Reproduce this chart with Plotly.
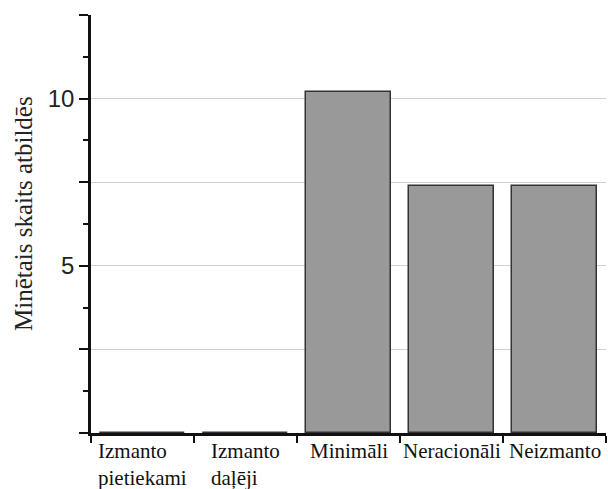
import plotly.graph_objects as go

# Survey categories and how often each was mentioned
categories = ["Izmanto pietiekami", "Izmanto daļēji", "Minimāli", "Neracionāli", "Neizmanto"]
label_lines = [["Izmanto", "pietiekami"], ["Izmanto", "daļēji"], ["Minimāli"], ["Neracionāli"], ["Neizmanto"]]
counts = [0, 0, 10.2, 7.4, 7.4]

y_tick_vals = [0, 2.5, 5, 7.5, 10, 12.5]
y_tick_text = ["", "", "5", "", "10", ""]
y_title = "Minētais skaits atbildēs"

serif = "Liberation Serif"
sans = "Liberation Sans"

fig = go.Figure(
    go.Bar(
        x=categories,
        y=counts,
        width=0.82,
        marker=dict(color="#999999", line=dict(color="#333333", width=1.5)),
    )
)

# Category labels below the axis, lines left-aligned within each label block
for cat, lines in zip(categories, label_lines):
    fig.add_annotation(
        x=cat, xref="x", y=0, yref="paper",
        text="<br>".join(lines),
        showarrow=False, xanchor="center", yanchor="top", align="left",
        yshift=-4,
        font=dict(family=serif, size=21, color="#111111"),
    )

# Rotated y-axis title
fig.add_annotation(
    x=-0.130, xref="paper", y=0.524, yref="paper",
    text=y_title, textangle=-90, showarrow=False,
    xanchor="center", yanchor="middle",
    font=dict(family=serif, size=25, color="#222222"),
)

fig.update_layout(
    width=608, height=489,
    margin=dict(l=91, r=2, t=15, b=56),
    paper_bgcolor="white", plot_bgcolor="white",
    showlegend=False,
    bargap=0,
)
fig.update_xaxes(
    type="category", range=[-0.5, 4.5],
    showline=True, linecolor="#111111", linewidth=2.5,
    ticks="outside", tickson="boundaries", ticklen=7, tickwidth=2, tickcolor="#111111",
    showticklabels=False, showgrid=False, zeroline=False,
)
fig.update_yaxes(
    range=[0, 12.5],
    tickvals=y_tick_vals, ticktext=y_tick_text,
    showline=True, linecolor="#111111", linewidth=2.5,
    ticks="outside", ticklen=9, tickwidth=2, tickcolor="#111111",
    tickfont=dict(family=sans, size=24, color="#222222"),
    showgrid=True, gridcolor="#d0d0d0", gridwidth=1, zeroline=False,
    minor=dict(dtick=1.25, tick0=0, ticks="outside", ticklen=5, tickwidth=2,
               tickcolor="#111111", showgrid=False),
)

fig.write_html("out.html")
